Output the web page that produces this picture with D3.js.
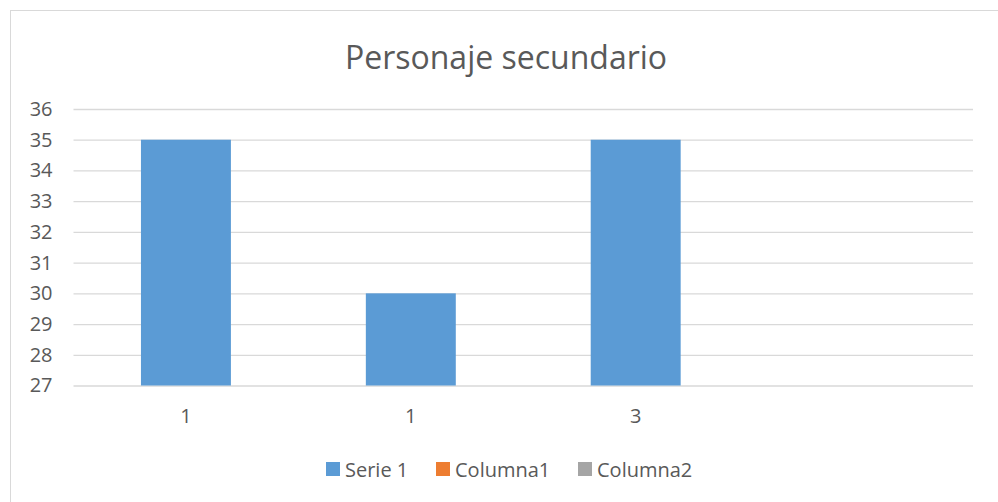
<!DOCTYPE html>
<html>
<head>
<meta charset="utf-8">
<script src="https://cdn.jsdelivr.net/npm/d3@7"></script>
<style>
  body { margin: 0; background: #fff; }
  text { font-family: "Open Sans", "Noto Sans", sans-serif; }
</style>
</head>
<body>
<div id="chart"></div>
<script>
// chart data
const categories = ["1", "1", "3", ""];
const serie1 = [35, 30, 35, null];
const seriesNames = ["Serie 1", "Columna1", "Columna2"];
const seriesColors = ["#5B9BD5", "#ED7D31", "#A5A5A5"];
const yTicks = [27, 28, 29, 30, 31, 32, 33, 34, 35, 36];

const W = 998, H = 502;
const margin = {top: 109, right: 25, bottom: 116.5, left: 73.5};
const width = W - margin.left - margin.right,
      height = H - margin.top - margin.bottom;

const svg = d3.select("#chart").append("svg")
    .attr("width", W).attr("height", H);

// outer chart border (runs off the right/bottom edge)
svg.append("rect")
    .attr("x", 10.5).attr("y", 10.5)
    .attr("width", W + 20).attr("height", H + 20)
    .attr("fill", "none").attr("stroke", "#D9D9D9");

svg.append("text")
    .attr("x", 506).attr("y", 69)
    .attr("text-anchor", "middle")
    .attr("font-size", "32px")
    .attr("fill", "#595959")
    .text("Personaje secundario");

const g = svg.append("g")
    .attr("transform", `translate(${margin.left},${margin.top})`);

const x = d3.scaleBand()
    .domain(d3.range(categories.length))
    .range([0, width])
    .paddingInner(0.6).paddingOuter(0.3);

const y = d3.scaleLinear()
    .domain([27, 36])
    .range([height, 0]);

// gridlines
g.append("g")
  .call(d3.axisLeft(y).tickValues(yTicks).tickSize(-width).tickFormat(""))
  .call(a => a.select(".domain").remove())
  .selectAll("line")
    .attr("stroke", "#D9D9D9").attr("stroke-width", 1.3);

// y labels
g.append("g")
  .call(d3.axisLeft(y).tickValues(yTicks).tickSize(0).tickPadding(21))
  .call(a => a.select(".domain").remove())
  .selectAll("text")
    .attr("font-size", "20px").attr("fill", "#595959")
    .style("font-family", "'Open Sans', sans-serif");

// bars
g.selectAll("rect.bar")
  .data(serie1.map((v, i) => ({i, v})).filter(d => d.v != null))
  .join("rect")
    .attr("class", "bar")
    .attr("x", d => x(d.i))
    .attr("width", x.bandwidth())
    .attr("y", d => y(d.v))
    .attr("height", d => y(27) - y(d.v))
    .attr("fill", seriesColors[0]);

// x labels
g.append("g")
  .attr("transform", `translate(0,${height})`)
  .call(d3.axisBottom(x).tickSize(0).tickPadding(23).tickFormat(i => categories[i]))
  .call(a => a.select(".domain").remove())
  .selectAll("text")
    .attr("font-size", "20px").attr("fill", "#595959")
    .style("font-family", "'Open Sans', sans-serif");

// legend
const legendX = [326, 436, 578];
const legend = svg.append("g").selectAll("g")
  .data(seriesNames)
  .join("g")
    .attr("transform", (d, i) => `translate(${legendX[i]},462)`);
legend.append("rect")
    .attr("width", 14).attr("height", 14)
    .attr("fill", (d, i) => seriesColors[i]);
legend.append("text")
    .attr("x", 19).attr("y", 15)
    .attr("font-size", "20px").attr("fill", "#595959")
    .text(d => d);
</script>
</body>
</html>
